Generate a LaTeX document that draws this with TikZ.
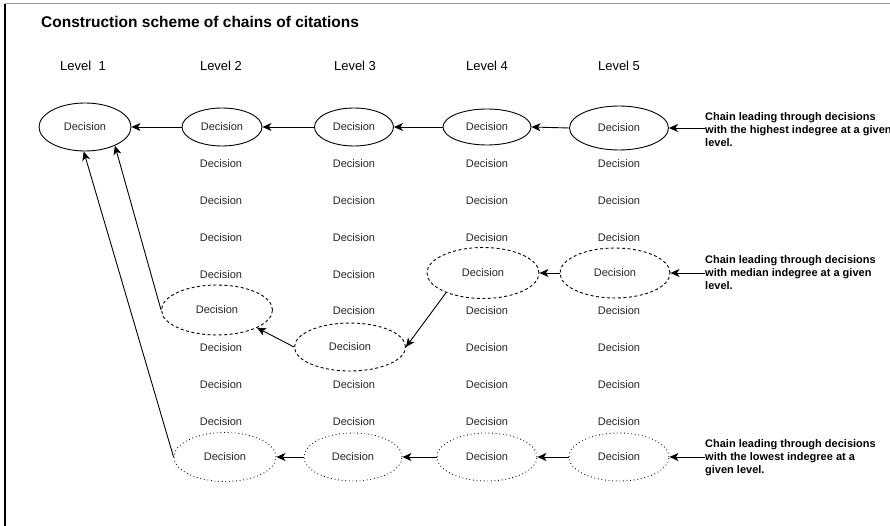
\documentclass[tikz,border=0pt]{standalone}
\usepackage{fontspec}
\setmainfont{Liberation Sans}
\usetikzlibrary{shapes.geometric,arrows.meta}
\begin{document}
\begin{tikzpicture}[x=1pt,y=-1pt,
  dec/.style={font=\fontsize{11}{13}\selectfont, inner sep=0pt, text=black!85},
  ell/.style={dec, ellipse, draw=black, line width=0.9pt},
  dsh/.style={ell, dash pattern=on 3pt off 2.5pt},
  dtt/.style={ell, dash pattern=on 0.8pt off 2.8pt},
  arr/.style={-{Stealth[length=9pt,width=8pt,inset=2.5pt]}, line width=0.9pt},
  lab/.style={font=\fontsize{11}{13}\selectfont\bfseries, align=left, anchor=west, inner sep=0pt},
  lvl/.style={font=\fontsize{13}{15}\selectfont, inner sep=0pt}]
\useasboundingbox (0,0) rectangle (890,526);
% frame edges
\draw[black!40, line width=1pt] (5,4) -- (890,4);
\draw[black, line width=1.2pt] (5,4) -- (5,526);
% title
\node[anchor=west, inner sep=0pt, font=\fontsize{15.5}{18}\selectfont\bfseries] (title) at (41,22) {Construction scheme of chains of citations};
% level headers
\node[lvl] (lv1) at (83,66) {Level\ \ 1};
\node[lvl] (lv2) at (221,66) {Level 2};
\node[lvl] (lv3) at (355,66) {Level 3};
\node[lvl] (lv4) at (487,66) {Level 4};
\node[lvl] (lv5) at (619,66) {Level 5};
% plain decisions
\foreach \c/\x in {2/221,3/354,4/487,5/619}{
  \foreach \r in {2,...,9}{
    \pgfmathtruncatemacro\skipit{((\c==2)&&(\r==6)) || ((\c==3)&&(\r==7)) || ((\c>=4)&&(\r==5))}
    \ifnum\skipit=0 \node[dec] (t\c-\r) at (\x,{127+36.8*(\r-1)}) {Decision};\fi
  }
}
% highest chain
\node[ell, minimum width=92pt, minimum height=48pt] (h1) at (85,127) {Decision};
\node[ell, minimum width=80pt, minimum height=38pt] (h2) at (222,127) {Decision};
\node[ell, minimum width=79pt, minimum height=38pt] (h3) at (354,127) {Decision};
\node[ell, minimum width=88pt, minimum height=36pt] (h4) at (487,127) {Decision};
\node[ell, minimum width=99pt, minimum height=44pt] (h5) at (619,128) {Decision};
% median chain
\node[dsh, minimum width=111pt, minimum height=50pt] (m2) at (217,310) {Decision};
\node[dsh, minimum width=111pt, minimum height=48pt] (m3) at (350,347) {Decision};
\node[dsh, minimum width=112pt, minimum height=51pt] (m4) at (483,273) {Decision};
\node[dsh, minimum width=110pt, minimum height=50pt] (m5) at (615,273) {Decision};
% lowest chain
\node[dtt, minimum width=102pt, minimum height=49pt] (l2) at (225,457) {Decision};
\node[dtt, minimum width=98pt, minimum height=48pt] (l3) at (353,457) {Decision};
\node[dtt, minimum width=100pt, minimum height=48pt] (l4) at (487,457) {Decision};
\node[dtt, minimum width=100pt, minimum height=48pt] (l5) at (619,457) {Decision};
% labels
\node[lab] (labH) at (705,130) {Chain leading through decisions\\with the highest indegree at a given\\level.};
\node[lab] (labM) at (705,273) {Chain leading through decisions\\with median indegree at a given\\level.};
\node[lab] (labL) at (705,458) {Chain leading through decisions\\with the lowest indegree at a\\given level.};
% arrows highest
\draw[arr] (h5.east -| labH.west) -- (h5.east);
\draw[arr] (h5.west) -- (h4.east);
\draw[arr] (h4.west) -- (h3.east);
\draw[arr] (h3.west) -- (h2.east);
\draw[arr] (h2.west) -- (h1.east);
% arrows median
\draw[arr] (m5.east -| labM.west) -- (m5.east);
\draw[arr] (m5.west) -- (m4.east);
\draw[arr] (m4.-152) -- (m3.east);
\draw[arr] (m3.west) -- (m2.-24);
\draw[arr] (m2.west) -- (h1.-32);
% arrows lowest
\draw[arr] (l5.east -| labL.west) -- (l5.east);
\draw[arr] (l5.west) -- (l4.east);
\draw[arr] (l4.west) -- (l3.east);
\draw[arr] (l3.west) -- (l2.east);
\draw[arr] (l2.west) -- (h1.-93);
\end{tikzpicture}
\end{document}
